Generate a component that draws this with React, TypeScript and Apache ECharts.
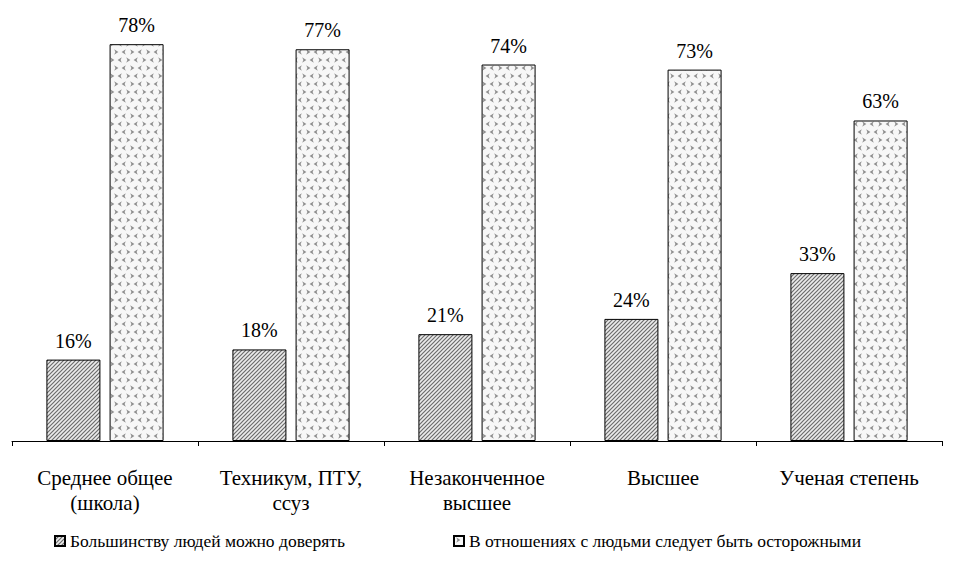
import React, { useEffect, useRef } from "react";
import * as echarts from "echarts";

const categories = [
  "Среднее общее\n(школа)",
  "Техникум, ПТУ,\nссуз",
  "Незаконченное\nвысшее",
  "Высшее",
  "Ученая степень",
];
const trustValues = [16, 18, 21, 24, 33];
const carefulValues = [78, 77, 74, 73, 63];
const seriesNames = [
  "Большинству людей можно доверять",
  "В отношениях с людьми следует быть осторожными",
];

function stripePattern(): HTMLCanvasElement {
  const c = document.createElement("canvas");
  c.width = 4;
  c.height = 4;
  const ctx = c.getContext("2d")!;
  ctx.fillStyle = "#ececec";
  ctx.fillRect(0, 0, 4, 4);
  ctx.strokeStyle = "#6c6c6c";
  ctx.lineWidth = 1.2;
  ctx.beginPath();
  ctx.moveTo(-1, 5);
  ctx.lineTo(5, -1);
  ctx.moveTo(-1, 1);
  ctx.lineTo(1, -1);
  ctx.moveTo(3, 5);
  ctx.lineTo(5, 3);
  ctx.stroke();
  return c;
}

function dotPattern(): HTMLCanvasElement {
  const c = document.createElement("canvas");
  c.width = 16;
  c.height = 16;
  const ctx = c.getContext("2d")!;
  ctx.fillStyle = "#f7f7f7";
  ctx.fillRect(0, 0, 16, 16);
  ctx.fillStyle = "#8f8f8f";
  const chev = (x: number, y: number, dir: number) => {
    ctx.beginPath();
    ctx.moveTo(x - dir * 1.8, y - 2.8);
    ctx.lineTo(x + dir * 2.4, y);
    ctx.lineTo(x - dir * 1.8, y + 2.8);
    ctx.lineTo(x - dir * 0.6, y);
    ctx.closePath();
    ctx.fill();
  };
  chev(4, 4, 1);
  chev(12, 4, -1);
  chev(8, 12, -1);
  chev(0, 12, 1);
  chev(16, 12, 1);
  return c;
}

export default function App() {
  const ref = useRef<HTMLDivElement>(null);
  useEffect(() => {
    if (!ref.current) return;
    const chart = echarts.init(ref.current, null, { renderer: "svg" });
    const font = "Liberation Serif";
    const stripe = { image: stripePattern(), repeat: "repeat" };
    const dots = { image: dotPattern(), repeat: "repeat" };
    const labelStyle = {
      show: true,
      position: "top",
      formatter: "{c}%",
      fontFamily: font,
      fontSize: 20,
      color: "#000",
      distance: 9,
    };
    chart.setOption({
      animation: false,
      textStyle: { fontFamily: font },
      grid: { left: 12, right: 13, top: 34, bottom: 122, containLabel: false },
      legend: {
        bottom: 8,
        left: 49,
        itemWidth: 10,
        itemHeight: 10,
        itemGap: 108,
        icon: "rect",
        textStyle: { fontFamily: font, fontSize: 17.5, color: "#000" },
        data: seriesNames,
      },
      xAxis: {
        type: "category",
        data: categories,
        axisLine: { lineStyle: { color: "#000", width: 1 } },
        axisTick: { show: true, length: 5, lineStyle: { color: "#000" } },
        axisLabel: {
          fontFamily: font,
          fontSize: 21,
          color: "#000",
          margin: 24,
          lineHeight: 25,
        },
      },
      yAxis: {
        type: "value",
        min: 0,
        max: 80,
        show: false,
        splitLine: { show: false },
      },
      series: [
        {
          name: seriesNames[0],
          type: "bar",
          data: trustValues,
          barWidth: 54,
          barGap: "17%",
          itemStyle: { color: stripe, borderColor: "#000", borderWidth: 1 },
          label: labelStyle,
        },
        {
          name: seriesNames[1],
          type: "bar",
          data: carefulValues,
          barWidth: 54,
          itemStyle: { color: dots, borderColor: "#000", borderWidth: 1 },
          label: labelStyle,
        },
      ],
    });
    return () => chart.dispose();
  }, []);
  return <div ref={ref} style={{ width: 955, height: 563, margin: -8 }} />;
}
